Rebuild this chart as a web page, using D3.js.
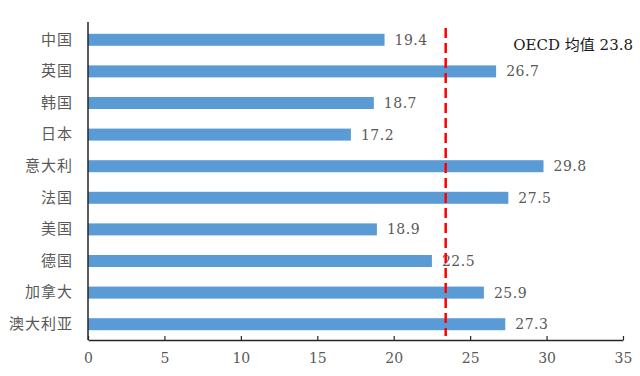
<!DOCTYPE html>
<html>
<head>
<meta charset="utf-8">
<script src="https://cdn.jsdelivr.net/npm/d3@7"></script>
<style>
  body { margin: 0; background: #fff; }
  svg text { font-family: "DejaVu Serif", "Noto Sans CJK SC", serif; fill: #595959; }
</style>
</head>
<body>
<div id="chart"></div>
<script>
// data
let countries = ["中国", "英国", "韩国", "日本", "意大利", "法国", "美国", "德国", "加拿大", "澳大利亚"];
let values = [19.4, 26.7, 18.7, 17.2, 29.8, 27.5, 18.9, 22.5, 25.9, 27.3];
let xTicks = [0, 5, 10, 15, 20, 25, 30, 35];
let oecdLabel = "OECD 均值 23.8";
let oecdLineAt = 23.4;   // where the dashed line is actually drawn

let width = 640, height = 376;
let margin = { left: 88, right: 17, top: 24, bottom: 36 };
let numFont = "'DejaVu Serif', serif";

let svg = d3.select("#chart")
  .append("svg")
  .attr("width", width)
  .attr("height", height);

let xScale = d3.scaleLinear()
  .domain([0, 35])
  .range([margin.left, width - margin.right]);

let yScale = d3.scaleBand()
  .domain(countries)
  .range([margin.top, height - margin.bottom])
  .paddingInner(0.62)
  .paddingOuter(0.31);

// bars
svg.append("g")
  .selectAll("rect")
  .data(countries)
  .join("rect")
  .attr("x", xScale(0))
  .attr("y", d => yScale(d))
  .attr("width", (d, i) => xScale(values[i]) - xScale(0))
  .attr("height", yScale.bandwidth())
  .style("fill", "#5b9bd5");

// value labels
svg.append("g")
  .selectAll("text")
  .data(countries)
  .join("text")
  .attr("x", (d, i) => xScale(values[i]) + 10)
  .attr("y", d => yScale(d) + yScale.bandwidth() / 2)
  .attr("dy", "0.35em")
  .style("font-family", numFont)
  .style("font-size", "14px")
  .style("letter-spacing", "0.5px")
  .text((d, i) => values[i].toFixed(1));

// x axis, ticks pointing up
let xAxis = svg.append("g")
  .attr("transform", `translate(0, ${height - margin.bottom})`)
  .call(d3.axisBottom(xScale).tickValues(xTicks).tickSizeInner(-4).tickSizeOuter(0).tickPadding(13));
xAxis.select(".domain").style("stroke", "#262626").style("stroke-width", 1.5);
xAxis.selectAll(".tick line").style("stroke", "#262626").style("stroke-width", 1.2);
xAxis.selectAll(".tick text")
  .style("font-size", "14px")
  .style("font-family", numFont)
  .style("fill", "#595959");

// y axis
let yAxis = svg.append("g")
  .attr("transform", `translate(${margin.left}, 0)`)
  .call(d3.axisLeft(yScale).tickSize(0).tickPadding(15));
yAxis.select(".domain").remove();
yAxis.selectAll(".tick text")
  .style("font-size", "15px")
  .style("font-family", "'Noto Sans CJK SC', sans-serif")
  .style("letter-spacing", "1px")
  .style("fill", "#595959");

svg.append("line")
  .attr("x1", margin.left)
  .attr("x2", margin.left)
  .attr("y1", 22)
  .attr("y2", height - margin.bottom)
  .style("stroke", "#262626")
  .style("stroke-width", 1.5);

// OECD mean line
svg.append("line")
  .attr("x1", xScale(oecdLineAt))
  .attr("x2", xScale(oecdLineAt))
  .attr("y1", 28)
  .attr("y2", height - margin.bottom - 4)
  .style("stroke", "#ff0000")
  .style("stroke-width", 2.5)
  .style("stroke-dasharray", "10,5");

svg.append("text")
  .attr("x", 633)
  .attr("y", 45)
  .attr("dy", "0.35em")
  .attr("text-anchor", "end")
  .style("font-family", "'DejaVu Serif', 'Noto Sans CJK SC', serif")
  .style("font-size", "15px")
  .style("fill", "#1a1a1a")
  .text(oecdLabel);
</script>
</body>
</html>
